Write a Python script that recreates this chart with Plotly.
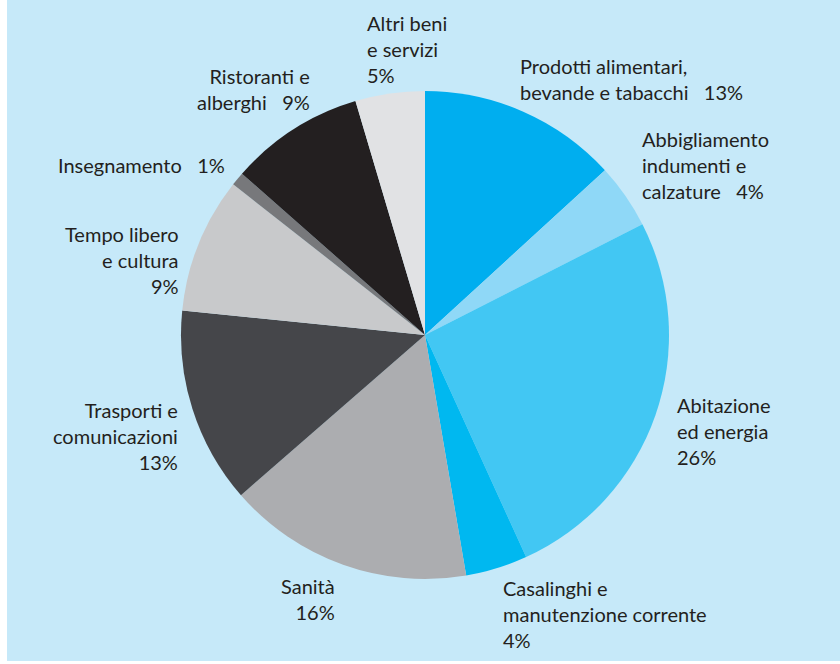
import plotly.graph_objects as go

categories = [
    "Prodotti alimentari,<br>bevande e tabacchi",
    "Abbigliamento<br>indumenti e<br>calzature",
    "Abitazione<br>ed energia",
    "Casalinghi e<br>manutenzione corrente",
    "Sanità",
    "Trasporti e<br>comunicazioni",
    "Tempo libero<br>e cultura",
    "Insegnamento",
    "Ristoranti e<br>alberghi",
    "Altri beni<br>e servizi",
]
# slice shares (percent)
values = [13.2, 4.3, 25.7, 4.1, 16.3, 13.0, 9.0, 0.9, 8.9, 4.6]
# percentages as printed on the labels
pct_labels = ["13%", "4%", "26%", "4%", "16%", "13%", "9%", "1%", "9%", "5%"]
# separator between category text and percentage
pct_sep = ["   ", "   ", "<br>", "<br>", "<br>", "<br>", "<br>", "   ", "   ", "<br>"]
colors = ["#00aeef", "#8fd8f7", "#42c7f3", "#00b8f0", "#acadb0",
          "#45464a", "#c8c9cb", "#77787b", "#231f20", "#e1e2e4"]

# label placement (pixels in the 840x664 canvas): x, top y, anchor
label_x = [518, 640, 675, 501, 337, 180, 181, 227, 312, 365]
label_top = [52, 125, 391, 574, 572, 396, 220, 151, 62, 9]
label_anchor = ["left", "left", "left", "left", "right", "right", "right", "right", "right", "left"]

W, H = 840, 664
cx, cy, r = 425, 335, 244

fig = go.Figure(go.Pie(
    values=values,
    labels=[c.replace("<br>", " ") for c in categories],
    marker=dict(colors=colors, line=dict(width=0)),
    sort=False,
    direction="clockwise",
    rotation=0,
    textinfo="none",
    hoverinfo="label+percent",
    domain=dict(x=[(cx - r) / W, (cx + r) / W], y=[1 - (cy + r) / H, 1 - (cy - r) / H]),
    showlegend=False,
))

for cat, p, sep, x, t, a in zip(categories, pct_labels, pct_sep, label_x, label_top, label_anchor):
    fig.add_annotation(
        text=f"{cat}{sep}{p}",
        x=x / W, y=1 - t / H, xref="paper", yref="paper",
        xanchor=a, yanchor="top", align=a, showarrow=False,
        font=dict(family="Lato", size=20, color="#231f20"),
    )

fig.add_shape(type="rect", xref="paper", yref="paper",
              x0=7 / W, x1=1, y0=3 / H, y1=1,
              fillcolor="#c6e9f9", line=dict(width=0), layer="below")

fig.update_layout(
    width=W, height=H,
    margin=dict(l=0, r=0, t=0, b=0),
    paper_bgcolor="white",
    plot_bgcolor="white",
)

fig.write_html("out.html",
               config={"displayModeBar": False},
               post_script="document.body.style.margin='0';document.body.style.overflow='hidden';")
